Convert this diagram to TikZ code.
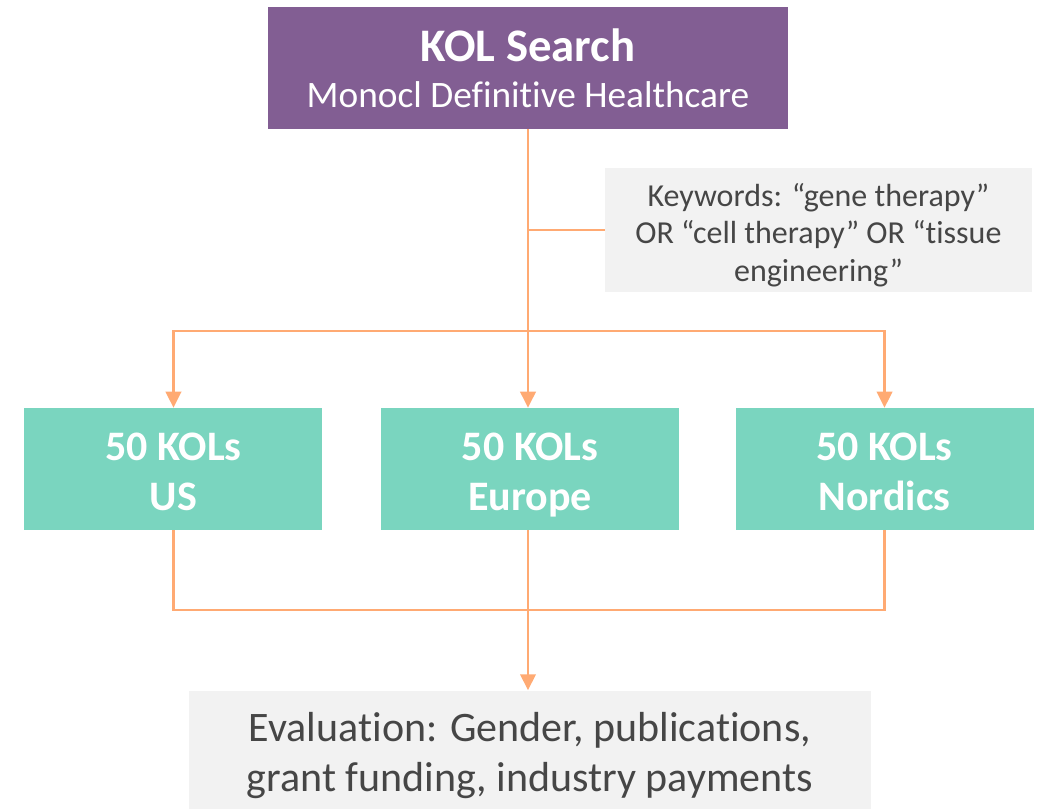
\documentclass[tikz,border=0pt]{standalone}
\usepackage{fontspec}
\setmainfont{Carlito}[Ligatures=NoCommon]
\usetikzlibrary{arrows.meta,positioning}

\definecolor{kolpurple}{HTML}{825E93}
\definecolor{kolteal}{HTML}{7AD5BF}
\definecolor{kolorange}{HTML}{FFAA73}
\definecolor{kolgrey}{HTML}{F2F2F2}
\definecolor{koltext}{HTML}{464646}

\tikzset{
  head/.style={fill=kolpurple, text=white, align=center, inner sep=0pt,
    minimum width=390pt, minimum height=91pt,
    font=\fontsize{28}{34.5}\selectfont},
  region/.style={fill=kolteal, text=white, align=center, inner sep=0pt,
    minimum width=223.5pt, minimum height=91.5pt,
    font=\fontsize{31.5}{37.5}\selectfont\bfseries, lift=73pt},
  note/.style={fill=kolgrey, text=koltext, align=center, inner sep=0pt},
  % text block height above the last baseline, and a fixed depth below it
  lift/.style={execute at begin node={\rule{0pt}{#1}},
    execute at end node=\strut},
  link/.style={draw=kolorange, line width=2pt},
  thin link/.style={draw=kolorange, line width=1.1pt},
  down/.style={-{Triangle[width=11.5pt,length=12pt]}}
}

\begin{document}
\begin{tikzpicture}[x=0.75pt,y=-0.75pt]
\useasboundingbox (0,0) rectangle (1040,809);

% search source and keyword box
\node[head] (search) at (528,68) {%
  {\fontsize{35}{34.5}\selectfont\bfseries KOL Search}\\
  Monocl Definitive Healthcare};
\node[note, lift=85pt, minimum width=320pt, minimum height=91.5pt,
      font=\fontsize{24}{28}\selectfont] (keywords) at (818.5,230)
  {Keywords: “gene therapy”\\OR “cell therapy” OR “tissue\\engineering”};

% the three regional sets
\node[region]                          (europe)  at (530,469) {50 KOLs\\Europe};
\node[region] [left=43.5pt of europe]  (us)                   {50 KOLs\\US};
\node[region] [right=42pt of europe]   (nordics)              {50 KOLs\\Nordics};

% evaluation
\node[note, lift=73.5pt, minimum width=511.5pt, minimum height=90pt,
      font=\fontsize{31.5}{38}\selectfont]
      [below=120pt of europe] (evaluation)
  {Evaluation: Gender, publications,\\grant funding, industry payments};

\coordinate (fork) at (528,331);
\coordinate (join) at (528,610);

% connectors
\draw[link,down] (search.south) -- (search.south |- europe.north);
\draw[link,down] (fork) -| (us.north);
\draw[link,down] (fork) -| (nordics.north);
\draw[thin link] (search.south |- keywords.west) -- (keywords.west);
\draw[link] (us.south) -- (us.south |- join) -- (nordics.south |- join) -- (nordics.south);
\draw[link,down] (search.south |- europe.south) -- (search.south |- evaluation.north);
\end{tikzpicture}
\end{document}
